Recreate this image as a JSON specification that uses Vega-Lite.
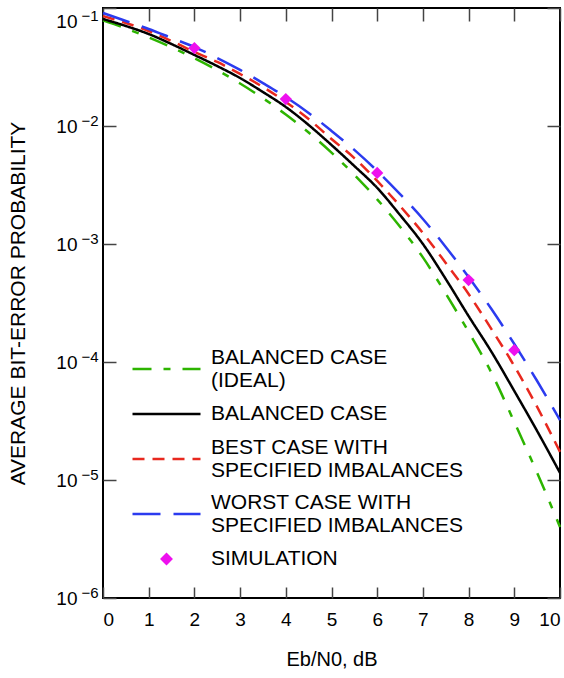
{
  "$schema": "https://vega.github.io/schema/vega-lite/v6.json",
  "width": 457,
  "height": 590,
  "autosize": {"type": "none"},
  "padding": {"left": 103, "top": 8, "right": 4, "bottom": 80},
  "background": "white",
  "config": {
    "view": {"stroke": "#000", "strokeWidth": 2},
    "font": "Liberation Sans",
    "axis": {"labelFont": "Liberation Sans", "titleFont": "Liberation Sans", "labelColor": "#000", "titleColor": "#000", "titleFontWeight": "normal", "grid": false, "domain": false, "tickColor": "#444", "tickWidth": 1.5}
  },
  "datasets": {
    "curves": [
      {"x": 0, "s": "ideal", "p": 0.0786}, {"x": 0.5, "s": "ideal", "p": 0.0671}, {"x": 1, "s": "ideal", "p": 0.0563}, {"x": 1.5, "s": "ideal", "p": 0.0464}, {"x": 2, "s": "ideal", "p": 0.0375}, {"x": 2.5, "s": "ideal", "p": 0.0297}, {"x": 3, "s": "ideal", "p": 0.0229}, {"x": 3.5, "s": "ideal", "p": 0.0172}, {"x": 4, "s": "ideal", "p": 0.0125}, {"x": 4.5, "s": "ideal", "p": 0.0088}, {"x": 5, "s": "ideal", "p": 0.00595}, {"x": 5.5, "s": "ideal", "p": 0.00386}, {"x": 6, "s": "ideal", "p": 0.00239}, {"x": 6.5, "s": "ideal", "p": 0.0014}, {"x": 7, "s": "ideal", "p": 0.00077}, {"x": 7.5, "s": "ideal", "p": 0.00038}, {"x": 8, "s": "ideal", "p": 0.00018}, {"x": 8.5, "s": "ideal", "p": 0.000081}, {"x": 9, "s": "ideal", "p": 0.000031}, {"x": 9.5, "s": "ideal", "p": 0.0000115}, {"x": 10, "s": "ideal", "p": 0.000004},
      {"x": 0, "s": "balanced", "p": 0.0807}, {"x": 0.5, "s": "balanced", "p": 0.0704}, {"x": 1, "s": "balanced", "p": 0.0602}, {"x": 1.5, "s": "balanced", "p": 0.0495}, {"x": 2, "s": "balanced", "p": 0.04}, {"x": 2.5, "s": "balanced", "p": 0.0322}, {"x": 3, "s": "balanced", "p": 0.0255}, {"x": 3.5, "s": "balanced", "p": 0.0194}, {"x": 4, "s": "balanced", "p": 0.0145}, {"x": 4.5, "s": "balanced", "p": 0.0102}, {"x": 5, "s": "balanced", "p": 0.0069}, {"x": 5.5, "s": "balanced", "p": 0.00458}, {"x": 6, "s": "balanced", "p": 0.00299}, {"x": 6.5, "s": "balanced", "p": 0.00176}, {"x": 7, "s": "balanced", "p": 0.001}, {"x": 7.5, "s": "balanced", "p": 0.000505}, {"x": 8, "s": "balanced", "p": 0.000245}, {"x": 8.5, "s": "balanced", "p": 0.000122}, {"x": 9, "s": "balanced", "p": 0.0000568}, {"x": 9.5, "s": "balanced", "p": 0.000026}, {"x": 10, "s": "balanced", "p": 0.0000115},
      {"x": 0, "s": "best", "p": 0.0855}, {"x": 0.5, "s": "best", "p": 0.0746}, {"x": 1, "s": "best", "p": 0.0638}, {"x": 1.5, "s": "best", "p": 0.0525}, {"x": 2, "s": "best", "p": 0.0424}, {"x": 2.5, "s": "best", "p": 0.0349}, {"x": 3, "s": "best", "p": 0.0276}, {"x": 3.5, "s": "best", "p": 0.0214}, {"x": 4, "s": "best", "p": 0.016}, {"x": 4.5, "s": "best", "p": 0.01146}, {"x": 5, "s": "best", "p": 0.00776}, {"x": 5.5, "s": "best", "p": 0.00535}, {"x": 6, "s": "best", "p": 0.00342}, {"x": 6.5, "s": "best", "p": 0.0021}, {"x": 7, "s": "best", "p": 0.00124}, {"x": 7.5, "s": "best", "p": 0.00069}, {"x": 8, "s": "best", "p": 0.000377}, {"x": 8.5, "s": "best", "p": 0.00019}, {"x": 9, "s": "best", "p": 0.0000925}, {"x": 9.5, "s": "best", "p": 0.0000416}, {"x": 10, "s": "best", "p": 0.0000173},
      {"x": 0, "s": "worst", "p": 0.0907}, {"x": 0.5, "s": "worst", "p": 0.0776}, {"x": 1, "s": "worst", "p": 0.0664}, {"x": 1.5, "s": "worst", "p": 0.0557}, {"x": 2, "s": "worst", "p": 0.0467}, {"x": 2.5, "s": "worst", "p": 0.0377}, {"x": 3, "s": "worst", "p": 0.0299}, {"x": 3.5, "s": "worst", "p": 0.0231}, {"x": 4, "s": "worst", "p": 0.0176}, {"x": 4.5, "s": "worst", "p": 0.0129}, {"x": 5, "s": "worst", "p": 0.00908}, {"x": 5.5, "s": "worst", "p": 0.00627}, {"x": 6, "s": "worst", "p": 0.00416}, {"x": 6.5, "s": "worst", "p": 0.00265}, {"x": 7, "s": "worst", "p": 0.00163}, {"x": 7.5, "s": "worst", "p": 0.000944}, {"x": 8, "s": "worst", "p": 0.000525}, {"x": 8.5, "s": "worst", "p": 0.000281}, {"x": 9, "s": "worst", "p": 0.000142}, {"x": 9.5, "s": "worst", "p": 0.000069}, {"x": 10, "s": "worst", "p": 0.0000322}
    ],
    "sim": [
      {"x": 2, "s": "sim", "p": 0.0458}, {"x": 4, "s": "sim", "p": 0.0169}, {"x": 6, "s": "sim", "p": 0.004}, {"x": 8, "s": "sim", "p": 0.000495}, {"x": 9, "s": "sim", "p": 0.000126}
    ]
  },
  "resolve": {"axis": {"x": "independent", "y": "independent"}},
  "layer": [
    {
      "data": {"name": "curves"},
      "transform": [{"filter": "datum.s == 'ideal' || datum.s == 'balanced'"}],
      "mark": {"type": "line", "strokeWidth": 2.5, "interpolate": "monotone"},
      "encoding": {
        "x": {"field": "x", "type": "quantitative", "scale": {"domain": [0, 10], "nice": false},
          "axis": {"orient": "bottom", "values": [0, 1, 2, 3, 4, 5, 6, 7, 8, 9, 10], "tickSize": -11, "labelFontSize": 19, "labelPadding": 23, "title": "Eb/N0, dB", "titleFontSize": 20, "titlePadding": 20}},
        "y": {"field": "p", "type": "quantitative", "scale": {"type": "log", "domain": [0.000001, 0.1], "nice": false},
          "axis": {"orient": "left", "values": [0.000001, 0.00001, 0.0001, 0.001, 0.01, 0.1], "labelExpr": "'10'", "tickSize": -13, "labelFontSize": 19, "labelPadding": 39, "title": "AVERAGE BIT-ERROR PROBABILITY", "titleFontSize": 21, "titlePadding": 27,
            "labelOffset": {"condition": {"test": "datum.value > 0.05", "value": 13}, "value": 0}}},
        "color": {"field": "s", "type": "nominal",
          "scale": {"domain": ["ideal", "balanced", "best", "worst", "sim"], "range": ["#2DB400", "#000000", "#E8281E", "#2B3BEF", "#EE10EE"]},
          "legend": {"orient": "none", "legendX": 28, "legendY": 349, "title": null, "labelFontSize": 21, "labelFont": "Liberation Sans", "labelColor": "#000", "labelLimit": 400, "symbolSize": 4624, "symbolStrokeWidth": 2.5, "clipHeight": 24, "rowPadding": 11, "labelOffset": 9,
            "labelExpr": "datum.value == 'ideal' ? ['BALANCED CASE', '(IDEAL)'] : datum.value == 'balanced' ? 'BALANCED CASE' : datum.value == 'best' ? ['BEST CASE WITH', 'SPECIFIED IMBALANCES'] : datum.value == 'worst' ? ['WORST CASE WITH', 'SPECIFIED IMBALANCES'] : 'SIMULATION'",
            "encode": {
              "symbols": {"update": {
                "shape": {"signal": "datum.value == 'sim' ? 'M-0.19,0L0,-0.19L0.19,0L0,0.19Z' : 'stroke'"},
                "fill": {"signal": "datum.value == 'sim' ? '#EE10EE' : 'transparent'"},
                "strokeOpacity": {"signal": "datum.value == 'sim' ? 0 : 1"}
              }},
              "labels": {"update": {"lineHeight": {"value": 23}, "dy": {"signal": "datum.value == 'ideal' || datum.value == 'best' || datum.value == 'worst' ? -11 : 0"}}}
            }}},
        "strokeDash": {"field": "s", "type": "nominal",
          "scale": {"domain": ["ideal", "balanced", "best", "worst", "sim"], "range": [[19, 12, 7, 12], [1, 0], [12, 8], [28, 13], [1, 0]]}}
      }
    },
    {
      "data": {"name": "curves"},
      "transform": [{"filter": "datum.s == 'best' || datum.s == 'worst'"}],
      "mark": {"type": "line", "strokeWidth": 2.5, "interpolate": "monotone"},
      "encoding": {
        "x": {"field": "x", "type": "quantitative", "scale": {"domain": [0, 10], "nice": false},
          "axis": {"orient": "top", "values": [0, 1, 2, 3, 4, 5, 6, 7, 8, 9, 10], "tickSize": -13, "labels": false, "title": null}},
        "y": {"field": "p", "type": "quantitative", "scale": {"type": "log", "domain": [0.000001, 0.1], "nice": false},
          "axis": {"orient": "right", "values": [0.000001, 0.00001, 0.0001, 0.001, 0.01, 0.1], "tickSize": -13, "labels": false, "title": null}},
        "color": {"field": "s", "type": "nominal", "scale": {"domain": ["ideal", "balanced", "best", "worst", "sim"], "range": ["#2DB400", "#000000", "#E8281E", "#2B3BEF", "#EE10EE"]}},
        "strokeDash": {"field": "s", "type": "nominal", "scale": {"domain": ["ideal", "balanced", "best", "worst", "sim"], "range": [[19, 12, 7, 12], [1, 0], [12, 8], [28, 13], [1, 0]]}}
      }
    },
    {
      "data": {"name": "sim"},
      "mark": {"type": "point", "shape": "diamond", "filled": true, "size": 150, "opacity": 1},
      "encoding": {
        "x": {"field": "x", "type": "quantitative", "scale": {"domain": [0, 10], "nice": false}, "axis": null},
        "y": {"field": "p", "type": "quantitative", "scale": {"type": "log", "domain": [0.000001, 0.1], "nice": false},
          "axis": {"orient": "left", "values": [0.000001, 0.00001, 0.0001, 0.001, 0.01, 0.1], "ticks": false, "labelExpr": "'−' + round(-log(datum.value) / LN10)", "labelFontSize": 15, "labelPadding": 5, "title": null,
            "labelOffset": {"condition": {"test": "datum.value > 0.05", "value": 7}, "value": -6}}},
        "color": {"field": "s", "type": "nominal", "scale": {"domain": ["ideal", "balanced", "best", "worst", "sim"], "range": ["#2DB400", "#000000", "#E8281E", "#2B3BEF", "#EE10EE"]}}
      }
    }
  ]
}
